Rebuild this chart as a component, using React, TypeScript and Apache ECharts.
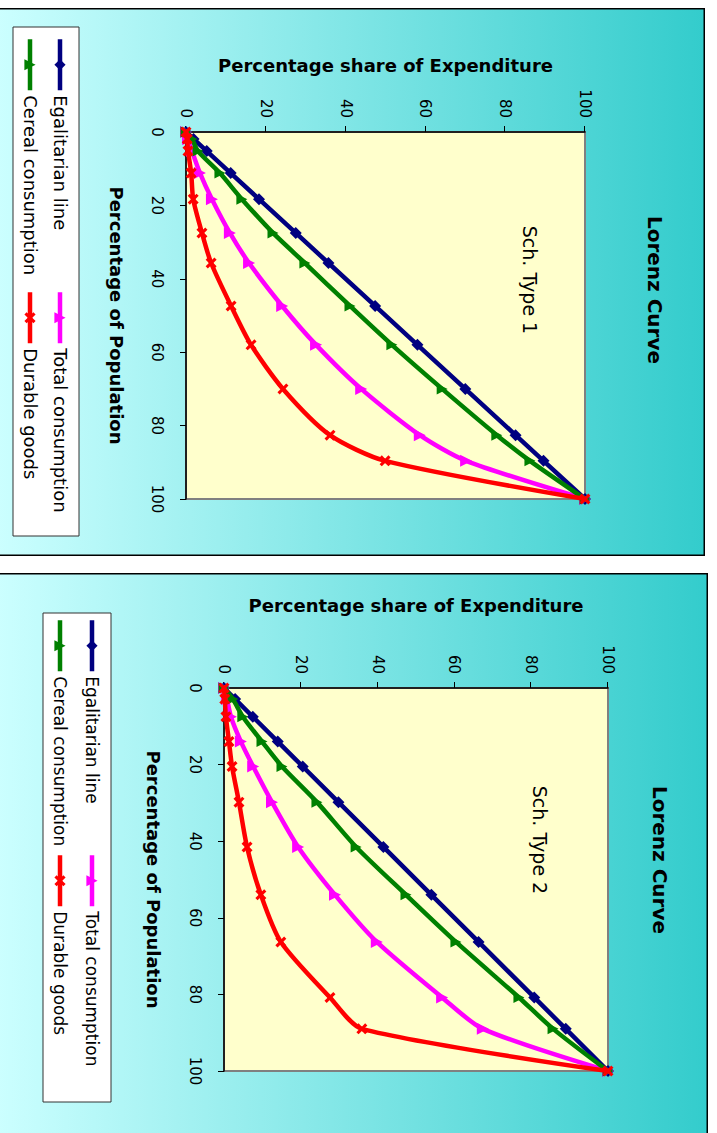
import React, { useEffect, useRef } from "react";
import * as echarts from "echarts";

// ---------- data ----------
const seriesNames = ["Egalitarian line", "Total consumption", "Cereal consumption", "Durable goods"];

// Sch. Type 1
const pop1 = [0, 1.9, 5.2, 11.2, 18.3, 27.5, 35.7, 47.4, 58.0, 70.0, 82.6, 89.6, 100];
const egal1 = [0, 1.9, 5.2, 11.2, 18.3, 27.5, 35.7, 47.4, 58.0, 70.0, 82.6, 89.6, 100];
const total1 = [0, 0.5, 1.5, 3.5, 6.5, 11.0, 15.8, 24.1, 32.6, 43.9, 58.6, 70.2, 100];
const cereal1 = [0, 1.5, 3.0, 8.5, 14.0, 21.8, 29.8, 41.1, 51.6, 64.2, 77.9, 86.2, 100];
const durable1 = [0, 0.3, 0.5, 1.3, 1.8, 4.0, 6.3, 11.3, 16.3, 24.3, 36.1, 49.9, 100];

// Sch. Type 2
const pop2 = [0, 2.9, 7.5, 14.0, 20.5, 29.8, 41.5, 54.0, 66.3, 80.8, 89.0, 100];
const egal2 = [0, 2.9, 7.5, 14.0, 20.5, 29.8, 41.5, 54.0, 66.3, 80.8, 89.0, 100];
const total2 = [0, 0.8, 1.8, 4.4, 7.6, 12.5, 19.3, 28.9, 39.8, 56.8, 67.4, 100];
const cereal2 = [0, 2.3, 4.9, 9.9, 15.1, 24.2, 34.4, 47.4, 60.4, 76.8, 85.7, 100];
const durable2 = [0, 0.2, 0.5, 1.3, 2.1, 3.9, 6.0, 9.6, 14.8, 27.6, 35.9, 100];

const axisTicks = [0, 20, 40, 60, 80, 100];

// ---------- styling ----------
const FONT = '"DejaVu Sans", Verdana, sans-serif';
const X_MARK = "path://M2,0 L5,3 L8,0 L10,2 L7,5 L10,8 L8,10 L5,7 L2,10 L0,8 L3,5 L0,2 Z";

const styles = [
  { color: "#000080", symbol: "diamond", size: 12, smooth: false as number | boolean },
  { color: "#FF00FF", symbol: "triangle", size: 12, smooth: 0.25 as number | boolean },
  { color: "#008000", symbol: "triangle", size: 11, smooth: 0.25 as number | boolean },
  { color: "#FF0000", symbol: X_MARK, size: 11, smooth: 0.25 as number | boolean },
];

type PanelCfg = {
  sx: number; sy: number; W: number; H: number;
  grid: { left: number; top: number; width: number; height: number };
  title: { x: number; y: number };
  sub: { text: string; x: number; y: number };
  yNameGap: number; xNameGap: number;
  legendBox: { x: number; y: number; w: number; h: number };
  col1: number; col2: number; rowTop: number; rowGap: number;
  legendFont: number;
  pop: number[]; values: number[][];
};

const panels: PanelCfg[] = [
  {
    sx: -4, sy: 8, W: 548, H: 709,
    grid: { left: 124, top: 120, width: 367, height: 399 },
    title: { x: 282, y: 50 },
    sub: { text: "Sch. Type 1", x: 272, y: 175 },
    yNameGap: 58, xNameGap: 61,
    legendBox: { x: 19, y: 626, w: 509, h: 66 },
    col1: 29, col2: 282, rowTop: 635, rowGap: 10, legendFont: 18,
    pop: pop1, values: [egal1, total1, cereal1, durable1],
  },
  {
    sx: -4, sy: 573, W: 570, H: 712,
    grid: { left: 115, top: 100, width: 383, height: 384 },
    title: { x: 287, y: 48 },
    sub: { text: "Sch. Type 2", x: 267, y: 168 },
    yNameGap: 74, xNameGap: 62,
    legendBox: { x: 40, y: 597, w: 489, h: 68 },
    col1: 45, col2: 280, rowTop: 606, rowGap: 12, legendFont: 17,
    pop: pop2, values: [egal2, total2, cereal2, durable2],
  },
];

function buildOption(c: PanelCfg) {
  const axisCommon = {
    type: "value" as const,
    min: 0,
    max: 100,
    interval: 20,
    nameLocation: "middle" as const,
    nameTextStyle: { fontFamily: FONT, fontWeight: "bold", fontSize: 18, color: "#000" },
    axisLine: { show: true, onZero: false, lineStyle: { color: "#000", width: 1.5 } },
    axisTick: { show: true, inside: false, length: 6, lineStyle: { color: "#000", width: 1 } },
    splitLine: { show: false },
  };
  const labelStyle = { fontFamily: FONT, fontSize: 15, color: "#000", formatter: (v: number) => (axisTicks.includes(v) ? String(v) : "") };
  const legendCommon = {
    orient: "vertical" as const,
    top: c.rowTop,
    itemWidth: 51,
    itemHeight: 14,
    itemGap: c.rowGap,
    padding: 0,
    lineStyle: { width: 4.5 },
    textStyle: { fontFamily: FONT, fontSize: c.legendFont, color: "#000", lineHeight: 20 },
  };
  return {
    animation: false,
    backgroundColor: "transparent",
    grid: {
      ...c.grid,
      show: true,
      backgroundColor: "#FFFFCC",
      borderColor: "#808080",
      borderWidth: 2,
      containLabel: false,
    },
    xAxis: {
      ...axisCommon,
      position: "bottom",
      name: "Percentage of Population",
      nameGap: c.xNameGap,
      axisLabel: { ...labelStyle, margin: 22 },
    },
    yAxis: {
      ...axisCommon,
      position: "left",
      name: "Percentage share of Expenditure",
      nameRotate: 90,
      nameGap: c.yNameGap,
      axisLabel: { ...labelStyle, margin: 14 },
    },
    legend: [
      { ...legendCommon, left: c.col1, data: [seriesNames[0], seriesNames[2]] },
      { ...legendCommon, left: c.col2, data: [seriesNames[1], seriesNames[3]] },
    ],
    graphic: [
      {
        type: "rect",
        silent: true,
        shape: { x: c.legendBox.x, y: c.legendBox.y, width: c.legendBox.w, height: c.legendBox.h },
        style: { fill: "#FFFFFF", stroke: "#333333", lineWidth: 1 },
      },
      {
        type: "text",
        silent: true,
        x: c.title.x,
        y: c.title.y,
        style: {
          text: "Lorenz Curve",
          fill: "#000",
          font: `bold 20px ${FONT}`,
          textAlign: "center",
          textVerticalAlign: "middle",
          align: "center",
          verticalAlign: "middle",
        },
      },
      {
        type: "text",
        silent: true,
        z: 10,
        x: c.sub.x,
        y: c.sub.y,
        style: {
          text: c.sub.text,
          fill: "#000",
          font: `19px ${FONT}`,
          textAlign: "center",
          textVerticalAlign: "middle",
          align: "center",
          verticalAlign: "middle",
        },
      },
    ],
    series: seriesNames.map((name, i) => ({
      name,
      type: "line",
      data: c.pop.map((p, k) => [p, c.values[i][k]]),
      symbol: styles[i].symbol,
      symbolSize: styles[i].size,
      showSymbol: true,
      smooth: styles[i].smooth,
      clip: false,
      color: styles[i].color,
      itemStyle: { color: styles[i].color },
      lineStyle: { color: styles[i].color, width: 4.5 },
      emphasis: { disabled: true },
      z: 2 + i,
    })),
  };
}

function Panel({ cfg }: { cfg: PanelCfg }) {
  const ref = useRef<HTMLDivElement>(null);
  useEffect(() => {
    if (!ref.current) return;
    const chart = echarts.init(ref.current, null, { renderer: "svg" });
    chart.setOption(buildOption(cfg) as any);
    return () => chart.dispose();
  }, [cfg]);
  return (
    <div
      style={{
        position: "absolute",
        left: cfg.sx,
        top: cfg.sy,
        width: cfg.W,
        height: cfg.H,
        transformOrigin: "0 0",
        transform: `translate(${cfg.H}px, 0px) rotate(90deg)`,
        background: "linear-gradient(to bottom, #33CCCC 0%, #CCFFFF 100%)",
        boxShadow: "inset 0 0 0 1.5px #000",
      }}
    >
      <div ref={ref} style={{ width: cfg.W, height: cfg.H }} />
    </div>
  );
}

export default function App() {
  return (
    <div
      style={{
        position: "absolute",
        left: 0,
        top: 0,
        width: 717,
        height: 1133,
        overflow: "hidden",
        background: "#FFFFFF",
      }}
    >
      {panels.map((p, i) => (
        <Panel key={i} cfg={p} />
      ))}
    </div>
  );
}
